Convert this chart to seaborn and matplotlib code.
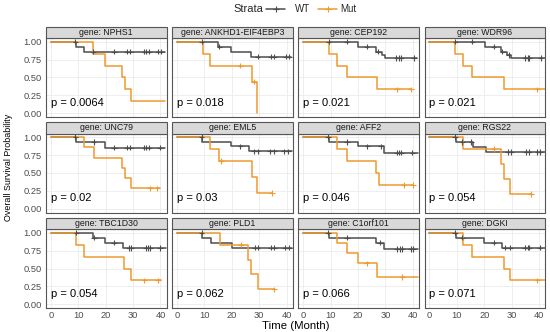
import numpy as np
import pandas as pd
import matplotlib
matplotlib.use("Agg")
import matplotlib.pyplot as plt
from matplotlib.lines import Line2D
from matplotlib.patches import Rectangle
import seaborn as sns

sns.set_theme(style="white")
plt.rcParams['font.family'] = ['Liberation Sans', 'DejaVu Sans']

# ---------------- data ----------------
GENES = ["NPHS1", "ANKHD1-EIF4EBP3", "CEP192", "WDR96",
         "UNC79", "EML5", "AFF2", "RGS22",
         "TBC1D30", "PLD1", "C1orf101", "DGKI"]
PVALS = ["0.0064", "0.018", "0.021", "0.021",
         "0.02", "0.03", "0.046", "0.054",
         "0.054", "0.062", "0.066", "0.071"]

STRATA = ["WT", "Mut"]

WT_TIMES = [
    [0, 9.3, 12.0, 41.5],
    [0, 15.0, 19.8, 27.0, 41.5],
    [0, 19.9, 26.4, 28.8, 29.8, 41.5],
    [0, 20.1, 26.0, 28.2, 29.8, 42.0],
    [0, 9.3, 19.8, 41.5],
    [0, 9.3, 19.7, 26.4, 42.0],
    [0, 9.3, 19.9, 29.6, 42.0],
    [0, 9.6, 15.8, 20.8, 42.0],
    [0, 15.5, 19.8, 26.4, 42.0],
    [0, 9.1, 12.4, 20.0, 42.0],
    [0, 9.3, 26.4, 29.4, 42.0],
    [0, 9.6, 20.0, 26.5, 42.0],
]
WT_SURV = [
    [1, 0.93, 0.86, 0.86],
    [1, 0.93, 0.86, 0.79, 0.79],
    [1, 0.93, 0.86, 0.81, 0.77, 0.77],
    [1, 0.93, 0.86, 0.81, 0.77, 0.77],
    [1, 0.93, 0.855, 0.855],
    [1, 0.93, 0.87, 0.80, 0.80],
    [1, 0.93, 0.87, 0.785, 0.785],
    [1, 0.93, 0.86, 0.79, 0.79],
    [1, 0.93, 0.86, 0.785, 0.785],
    [1, 0.93, 0.86, 0.79, 0.79],
    [1, 0.93, 0.86, 0.77, 0.77],
    [1, 0.93, 0.86, 0.79, 0.79],
]
WT_CENS = [
    [9.0, 15.5, 23.1, 27.7, 28.9, 34.1, 34.9, 35.9, 39.2, 40.3],
    [9.0, 15.5, 29.4, 34.3, 35.5, 39.8, 41.0],
    [9.3, 15.8, 23.1, 27.2, 34.0, 34.9, 35.8, 40.4],
    [9.5, 15.7, 23.4, 26.6, 28.9, 34.9, 35.8, 36.5, 40.6],
    [9.0, 15.6, 23.1, 27.7, 28.9, 34.1, 34.9, 35.9, 39.9],
    [9.0, 23.1, 28.0, 29.4, 34.0, 35.3, 39.0, 40.4],
    [9.0, 16.0, 23.4, 28.2, 34.2, 35.0, 35.8, 39.8],
    [9.3, 12.0, 15.3, 28.5, 29.7, 35.1, 36.3, 39.4, 40.3],
    [9.3, 15.8, 23.1, 28.6, 29.4, 34.7, 35.5, 36.2, 39.9],
    [9.0, 28.5, 29.4, 34.2, 35.5, 39.4, 40.9],
    [9.0, 16.0, 28.0, 34.3, 35.3, 36.2, 39.2, 40.1],
    [9.3, 12.0, 23.4, 27.6, 29.4, 34.9, 35.8, 36.5, 40.2],
]

MUT_TIMES = [
    [0, 15.5, 19.8, 26.1, 27.0, 29.4, 41.5],
    [0, 9.5, 12.2, 27.2, 29.2],
    [0, 9.3, 12.4, 15.8, 27.1, 39.3],
    [0, 9.5, 12.4, 15.7, 27.2, 42.0],
    [0, 12.2, 15.6, 26.1, 27.0, 29.4, 40.0],
    [0, 12.2, 15.2, 27.2, 29.2, 34.7],
    [0, 12.4, 16.0, 26.6, 27.5, 40.1],
    [0, 12.4, 26.0, 27.2, 29.4, 37.1],
    [0, 9.3, 12.2, 26.8, 29.4, 40.1],
    [0, 15.7, 26.0, 27.0, 29.4, 35.5],
    [0, 12.4, 15.8, 20.1, 27.1, 42.0],
    [0, 12.4, 15.7, 27.2, 29.4, 42.0],
]
MUT_SURV = [
    [1, 0.833, 0.667, 0.5, 0.333, 0.167, 0.167],
    [1, 0.833, 0.667, 0.444, 0.0],
    [1, 0.833, 0.667, 0.5, 0.333, 0.333],
    [1, 0.833, 0.667, 0.5, 0.333, 0.333],
    [1, 0.857, 0.714, 0.571, 0.429, 0.286, 0.286],
    [1, 0.833, 0.667, 0.444, 0.222, 0.222],
    [1, 0.833, 0.667, 0.5, 0.333, 0.333],
    [1, 0.833, 0.625, 0.417, 0.208, 0.208],
    [1, 0.833, 0.667, 0.5, 0.333, 0.333],
    [1, 0.833, 0.625, 0.417, 0.208, 0.208],
    [1, 0.857, 0.714, 0.571, 0.381, 0.381],
    [1, 0.833, 0.667, 0.5, 0.333, 0.333],
]
MUT_CENS = [
    [],
    [23.1, 28.0],
    [34.3, 39.3],
    [39.4],
    [36.2, 38.9],
    [16.0, 34.7],
    [36.6, 40.1],
    [23.4, 37.1],
    [34.1, 39.2],
    [23.4, 35.5],
    [23.1, 36.2],
    [39.4],
]

X_TICKS = [0, 10, 20, 30, 40]
Y_TICKS = [0.0, 0.25, 0.5, 0.75, 1.0]
Y_TICK_LABELS = ["0.00", "0.25", "0.50", "0.75", "1.00"]

# ---------------- styling ----------------
PALETTE = {"WT": "#4D4D4D", "Mut": "#EE9A2E"}
W, H = 550, 332
COL_LEFT = [46, 172.2, 298.4, 424.6]
PANEL_W = 120.5
STRIP_TOP = [26.5, 122.0, 217.5]
STRIP_H = 11.5
PLOT_H = 79.0
BORDER = "#555555"
TXT = "#4D4D4D"


def fx(px):
    return px / W


def fy(py):
    return 1 - py / H


def step_value(times, surv, t):
    idx = np.searchsorted(np.asarray(times), t, side="right") - 1
    return surv[max(idx, 0)]


fig = plt.figure(figsize=(W / 100, H / 100), dpi=100)

for i, gene in enumerate(GENES):
    r, c = divmod(i, 4)
    left = COL_LEFT[c]
    stop = STRIP_TOP[r]
    ptop = stop + STRIP_H
    ax = fig.add_axes([fx(left), fy(ptop + PLOT_H), PANEL_W / W, PLOT_H / H])

    # curves
    frames = []
    for s, T, S in (("WT", WT_TIMES[i], WT_SURV[i]), ("Mut", MUT_TIMES[i], MUT_SURV[i])):
        frames.append(pd.DataFrame({"time": T, "surv": S, "strata": s}))
    curves = pd.concat(frames, ignore_index=True)
    sns.lineplot(data=curves, x="time", y="surv", hue="strata", hue_order=STRATA,
                 palette=PALETTE, estimator=None, sort=False, drawstyle="steps-post",
                 linewidth=1.1, legend=False, ax=ax, zorder=3)

    # censor marks
    cframes = []
    for s, T, S, C in (("WT", WT_TIMES[i], WT_SURV[i], WT_CENS[i]),
                       ("Mut", MUT_TIMES[i], MUT_SURV[i], MUT_CENS[i])):
        if len(C):
            cframes.append(pd.DataFrame({"time": C,
                                         "surv": [step_value(T, S, t) for t in C],
                                         "strata": s}))
    cens = pd.concat(cframes, ignore_index=True)
    sns.scatterplot(data=cens, x="time", y="surv", hue="strata", hue_order=STRATA,
                    palette=PALETTE, marker="+", s=16, linewidth=0.8,
                    legend=False, ax=ax, zorder=4)

    ax.set_xlim(-1.75, 42.2)
    ax.set_ylim(-0.05, 1.05)
    ax.set_xticks(X_TICKS)
    ax.set_yticks(Y_TICKS)
    ax.grid(True, color="#EBEBEB", linewidth=0.6, zorder=0)
    ax.set_axisbelow(True)
    for sp in ax.spines.values():
        sp.set_color(BORDER)
        sp.set_linewidth(0.8)
    ax.tick_params(axis="both", length=1.6, width=0.5, color="#333333",
                   labelsize=6.7, labelcolor=TXT, pad=1.2)
    ax.tick_params(axis="x", pad=0.5)
    if c == 0:
        ax.set_yticklabels(Y_TICK_LABELS)
    else:
        ax.set_yticklabels([])
        ax.tick_params(axis="y", length=0)
    if r == 2:
        ax.set_xticklabels([str(t) for t in X_TICKS])
    else:
        ax.set_xticklabels([])
        ax.tick_params(axis="x", length=0)
    ax.set_xlabel("")
    ax.set_ylabel("")

    ax.text(0, 0.15, f"p = {PVALS[i]}", fontsize=8, color="#000000",
            ha="left", va="center", zorder=5)

    # strip
    fig.add_artist(Rectangle((fx(left), fy(ptop)), PANEL_W / W, STRIP_H / H,
                             transform=fig.transFigure, facecolor="#D9D9D9",
                             edgecolor=BORDER, linewidth=0.8))
    fig.text(fx(left + PANEL_W / 2), fy(stop + STRIP_H / 2), f"gene: {gene}",
             fontsize=6.3, color="#1A1A1A", ha="center", va="center")

# axis titles
fig.text(fx(296), fy(326), "Time (Month)", fontsize=8.2, ha="center", va="center",
         color="#000000")
fig.text(fx(9), fy(167.7), "Overall Survival Probability", fontsize=6.4,
         rotation=90, ha="center", va="center", color="#000000")

# legend
ly = fy(8.5)
fig.text(fx(233), ly, "Strata", fontsize=8, ha="left", va="center")
for s, x0, x1, tx in (("WT", 266, 285, 295), ("Mut", 318, 337, 340)):
    fig.add_artist(Line2D([fx(x0), fx(x1)], [ly, ly], transform=fig.transFigure,
                          color=PALETTE[s], linewidth=1.1))
    fig.add_artist(Line2D([fx((x0 + x1) / 2)], [ly], transform=fig.transFigure,
                          color=PALETTE[s], marker="+", markersize=4,
                          markeredgewidth=0.8, linestyle="none"))
    fig.text(fx(tx), ly, s, fontsize=7, ha="left", va="center")

fig.savefig("out.png", dpi=100)
